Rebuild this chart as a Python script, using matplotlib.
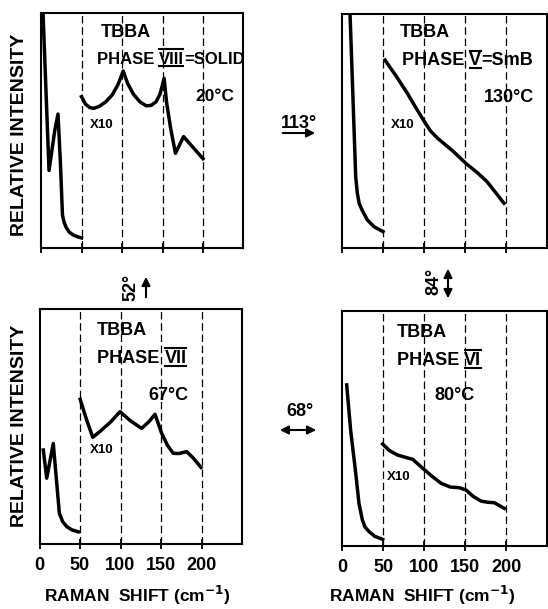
import matplotlib.pyplot as plt
from matplotlib.lines import Line2D
from matplotlib.patches import FancyArrowPatch

plt.rcParams['font.family'] = ['Liberation Sans', 'DejaVu Sans']
plt.rcParams['font.weight'] = 'bold'

# x ticks (cm-1) and the dashed guide lines
ticks = [0, 50, 100, 150, 200]
guides = [50, 100, 150, 200]

# phase VIII = solid, 20 C  (low part 0-50, x10 part 50-200)
viii_low_x = [2.5, 9.9, 17, 21, 24, 26.5, 28.5, 31, 35, 40, 45, 50]
viii_low_y = [1.0, 0.33, 0.50, 0.57, 0.36, 0.14, 0.11, 0.088, 0.067, 0.055, 0.048, 0.043]
viii_x10_x = [50, 55, 60, 65, 72, 80, 88, 95, 101.5, 107, 114, 122, 130, 136, 142, 147, 152, 155, 160, 166, 176, 200]
viii_x10_y = [0.644, 0.612, 0.598, 0.594, 0.603, 0.622, 0.652, 0.695, 0.753, 0.70, 0.655, 0.622,
              0.605, 0.607, 0.622, 0.655, 0.722, 0.62, 0.51, 0.403, 0.474, 0.38]

# phase V = SmB, 130 C
v_low_x = [9.8, 13, 16.7, 18.7, 21, 24.8, 30.9, 39, 50]
v_low_y = [1.0, 0.68, 0.305, 0.234, 0.19, 0.16, 0.12, 0.091, 0.07]
v_x10_x = [52.4, 66, 79.7, 90, 100.4, 108, 116.6, 135, 151, 165, 177, 197.6]
v_x10_y = [0.803, 0.735, 0.661, 0.60, 0.54, 0.50, 0.469, 0.415, 0.362, 0.322, 0.283, 0.191]

# phase VII, 67 C
vii_low_x = [4.7, 8.9, 17, 24.5, 28.6, 33.6, 40, 47.9]
vii_low_y = [0.40, 0.28, 0.428, 0.131, 0.095, 0.074, 0.06, 0.052]
vii_x10_x = [50.2, 58, 65.8, 75, 88, 99.4, 112, 126, 135, 142.6, 150.8, 158, 165, 172, 181.7, 190, 199.4]
vii_x10_y = [0.616, 0.53, 0.454, 0.48, 0.52, 0.563, 0.525, 0.492, 0.52, 0.552, 0.471, 0.42,
             0.386, 0.385, 0.393, 0.365, 0.326]

# phase VI, 80 C
vi_low_x = [5.7, 10.6, 16.7, 20.7, 24.8, 28, 33, 40, 49.6]
vi_low_y = [0.685, 0.49, 0.31, 0.18, 0.11, 0.08, 0.06, 0.04, 0.027]
vi_x10_x = [49.6, 58, 67.9, 78, 86.2, 98.4, 110, 120.8, 132, 143.2, 151.3, 160, 169.6, 178, 185.9, 198]
vi_x10_y = [0.433, 0.405, 0.386, 0.376, 0.368, 0.33, 0.295, 0.266, 0.25, 0.247, 0.237, 0.21,
            0.19, 0.185, 0.183, 0.159]

W, H = 548, 609
fig = plt.figure(figsize=(W / 100, H / 100), dpi=100)


def box(l, t, r, b):
    return [l / W, 1 - b / H, (r - l) / W, (b - t) / H]


def setup(ax, labels):
    ax.set_xlim(0, 250)
    ax.set_ylim(0, 1)
    for s in ax.spines.values():
        s.set_linewidth(1.5)
    ax.set_yticks([])
    ax.set_xticks(ticks)
    ax.tick_params(axis='x', direction='inout', length=7, width=1.3, pad=6, labelsize=13)
    if not labels:
        ax.set_xticklabels([])
    for g in guides:
        ax.axvline(g, color='black', lw=0.9, ls=(0, (6, 3)))


def curves(ax, lx, ly, hx, hy):
    ax.plot(lx, ly, color='black', lw=2.5, solid_joinstyle='round')
    ax.plot(hx, hy, color='black', lw=2.5, solid_joinstyle='round')


numerals = []


def phase(ax, x, y, numeral, suffix, size):
    t1 = ax.text(x, y, 'PHASE ', fontsize=size, va='center')
    t2 = ax.annotate(numeral, xy=(1, 0), xycoords=t1, va='bottom', fontsize=size)
    if suffix:
        ax.annotate(suffix, xy=(1, 0), xycoords=t2, va='bottom', fontsize=size)
    numerals.append((t2, size))


ax_tl = fig.add_axes(box(41, 13, 243.5, 248))
ax_tr = fig.add_axes(box(342, 14, 547, 248))
ax_bl = fig.add_axes(box(39.5, 309, 242, 544))
ax_br = fig.add_axes(box(342, 311, 547, 545.7))

setup(ax_tl, False)
setup(ax_tr, False)
setup(ax_bl, True)
setup(ax_br, True)

curves(ax_tl, viii_low_x, viii_low_y, viii_x10_x, viii_x10_y)
curves(ax_tr, v_low_x, v_low_y, v_x10_x, v_x10_y)
curves(ax_bl, vii_low_x, vii_low_y, vii_x10_x, vii_x10_y)
curves(ax_br, vi_low_x, vi_low_y, vi_x10_x, vi_x10_y)

# panel texts
ax_tl.text(74, 0.919, 'TBBA', fontsize=13, va='center')
phase(ax_tl, 69, 0.804, 'VIII', '=SOLID', 12)
ax_tl.text(190, 0.643, '20°C', fontsize=12.5, va='center')
ax_tl.text(60, 0.523, 'X10', fontsize=9.5, va='center')

ax_tr.text(70.7, 0.923, 'TBBA', fontsize=13, va='center')
phase(ax_tr, 73, 0.80, 'V', '=SmB', 13)
ax_tr.text(173, 0.645, '130°C', fontsize=13, va='center')
ax_tr.text(60, 0.526, 'X10', fontsize=9.5, va='center')

ax_bl.text(71, 0.91, 'TBBA', fontsize=13, va='center')
phase(ax_bl, 71, 0.79, 'VII', '', 13)
ax_bl.text(134, 0.634, '67°C', fontsize=13, va='center')
ax_bl.text(62, 0.40, 'X10', fontsize=9.5, va='center')

ax_br.text(67, 0.91, 'TBBA', fontsize=13, va='center')
phase(ax_br, 67, 0.79, 'VI', '', 13)
ax_br.text(113, 0.642, '80°C', fontsize=13, va='center')
ax_br.text(55, 0.293, 'X10', fontsize=9.5, va='center')

# axis titles
for yc in (135, 426):
    fig.text(20 / W, 1 - yc / H, 'RELATIVE INTENSITY', rotation=90, fontsize=14,
             ha='center', va='center')
for xc in (137, 422):
    fig.text(xc / W, 1 - 595 / H, 'RAMAN  SHIFT (cm$^{-1}$)', fontsize=12.5,
             ha='center', va='center')


# transition arrows
def arrow(x0, y0, x1, y1, style):
    fig.add_artist(FancyArrowPatch(
        (x0 / W, 1 - y0 / H), (x1 / W, 1 - y1 / H), transform=fig.transFigure,
        arrowstyle=style + ',head_length=5,head_width=2.5', lw=1.5, color='black'))


fig.text(299 / W, 1 - 123 / H, '113°', fontsize=13, ha='center', va='center')
arrow(280, 133, 318, 133, '-|>')
fig.text(131 / W, 1 - 287 / H, '52°', fontsize=13, rotation=90, ha='center', va='center')
arrow(146, 300, 146, 274, '-|>')
fig.text(434 / W, 1 - 281 / H, '84°', fontsize=13, rotation=90, ha='center', va='center')
arrow(448, 266, 448, 301, '<|-|>')
fig.text(300 / W, 1 - 412 / H, '68°', fontsize=13, ha='center', va='center')
arrow(277, 430, 319, 430, '<|-|>')

# over- and under-bars of the roman numerals
fig.canvas.draw()
inv = fig.transFigure.inverted()
for t, size in numerals:
    bb = t.get_window_extent()
    em = size * fig.dpi / 72
    base = bb.y0 + 0.21 * em
    for yy in (base - 0.15 * em, base + 0.83 * em):
        (fx0, fy), (fx1, _) = inv.transform([(bb.x0 + 0.5, yy), (bb.x1 - 0.5, yy)])
        fig.add_artist(Line2D([fx0, fx1], [fy, fy], transform=fig.transFigure,
                              color='black', lw=1.5))

fig.savefig('out.png', dpi=100)
